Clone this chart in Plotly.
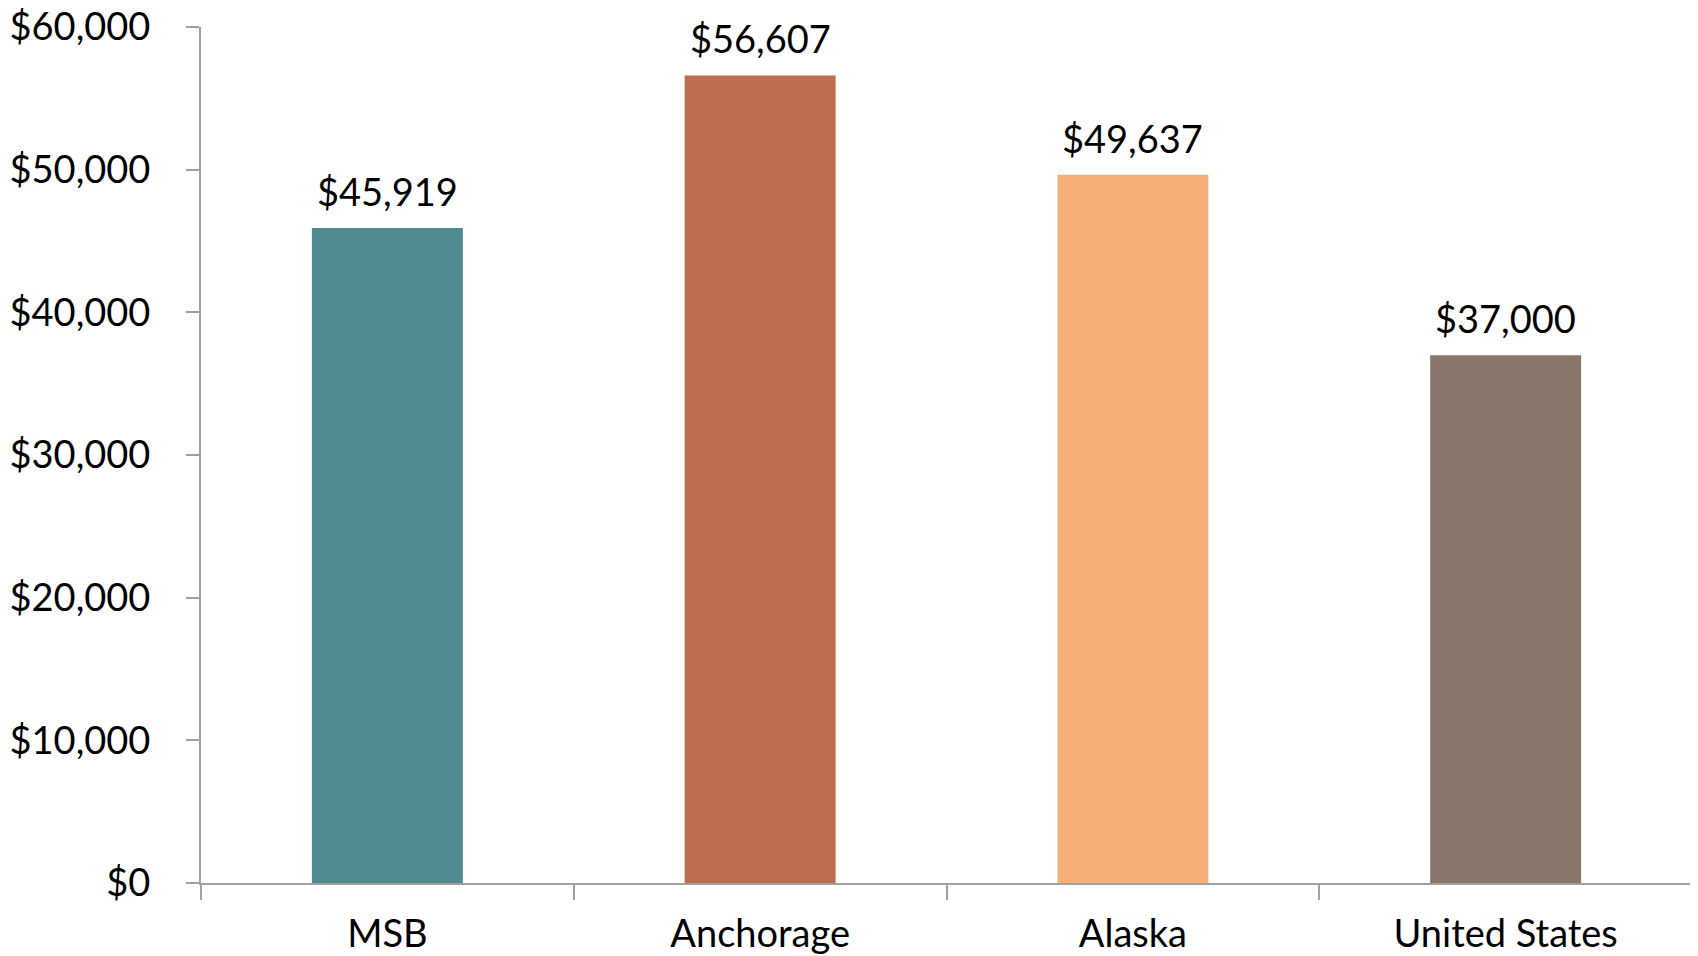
import plotly.graph_objects as go

# Datos
regiones = ["MSB", "Anchorage", "Alaska", "United States"]
ingresos = [45919, 56607, 49637, 37000]
colores = ["#4F8B91", "#BE6E50", "#F7AF78", "#8A756B"]
ticks_y = [0, 10000, 20000, 30000, 40000, 50000, 60000]
etiquetas_y = ["$0", "$10,000", "$20,000", "$30,000", "$40,000", "$50,000", "$60,000"]

fuente = "Lato, 'Open Sans', sans-serif"

fig = go.Figure(go.Bar(
    x=regiones,
    y=ingresos,
    marker=dict(color=colores, line=dict(width=0)),
    cliponaxis=False,
))

# Etiquetas de valor sobre cada barra
for region, valor in zip(regiones, ingresos):
    fig.add_annotation(
        x=region, y=valor,
        text=f"${valor:,}",
        showarrow=False,
        yanchor="bottom",
        yshift=12,
        font=dict(family=fuente, size=38, color="black"),
    )

fig.update_layout(
    width=1690,
    height=948,
    margin=dict(l=193, r=6, t=19, b=73),
    plot_bgcolor="white",
    paper_bgcolor="white",
    bargap=0.595,
    showlegend=False,
    font=dict(family=fuente, size=38, color="black"),
)

fig.update_yaxes(
    range=[0, 60000],
    tickvals=ticks_y,
    ticktext=etiquetas_y,
    showgrid=False,
    zeroline=False,
    showline=True,
    linecolor="#A0A0A0",
    linewidth=2,
    ticks="outside",
    ticklen=13,
    tickwidth=2,
    tickcolor="#A0A0A0",
    ticklabelstandoff=28,
    ticklabeloverflow="allow",
    automargin=False,
    tickfont=dict(family=fuente, size=38, color="black"),
)

fig.update_xaxes(
    showgrid=False,
    showline=True,
    linecolor="#A0A0A0",
    linewidth=2,
    ticks="outside",
    tickson="boundaries",
    ticklen=15,
    tickwidth=2,
    tickcolor="#A0A0A0",
    ticklabelstandoff=16,
    tickfont=dict(family=fuente, size=38, color="black"),
    automargin=False,
)

fig.write_html("out.html")
